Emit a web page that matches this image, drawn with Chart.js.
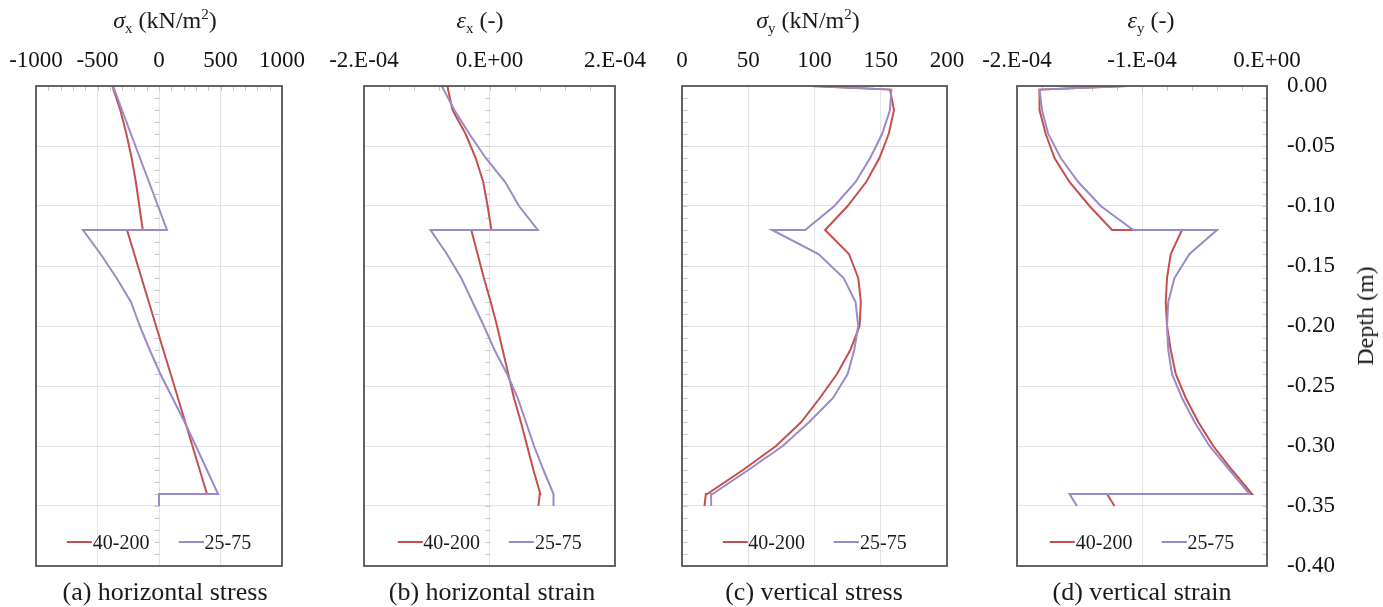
<!DOCTYPE html>
<html>
<head>
<meta charset="utf-8">
<script src="https://cdn.jsdelivr.net/npm/chart.js@4.4.1/dist/chart.umd.min.js"></script>
<style>
  body { margin: 0; background: #fff; width: 1383px; height: 607px; position: relative; overflow: hidden;
         font-family: "Liberation Serif", "Times New Roman", serif; color: #1a1a1a; }
  canvas { position: absolute; top: 0; }
  .title, .caption { position: absolute; white-space: nowrap; transform: translateX(-50%); }
  .title { font-size: 24px; line-height: 28px; }
  .caption { font-size: 26px; line-height: 30px; }
  .title sub { font-size: 15px; vertical-align: -5px; line-height: 0; }
  .title sup { font-size: 15px; vertical-align: 9px; line-height: 0; }
  .legend { position: absolute; display: flex; gap: 29px; transform: translateX(-50%); font-size: 20px; line-height: 24px; white-space: nowrap; }
  .legend span.key { display: inline-block; width: 25px; height: 2px; vertical-align: middle; margin-right: 1px; position: relative; top: -2px; }
  .ytitle { position: absolute; left: 1365px; top: 316px; font-size: 24px; line-height: 28px; white-space: nowrap;
            transform: translate(-50%, -50%) rotate(-90deg); }
</style>
</head>
<body>
<canvas id="chartA" width="366" height="607"></canvas>
<canvas id="chartB" width="371" height="607"></canvas>
<canvas id="chartC" width="385" height="607"></canvas>
<canvas id="chartD" width="426" height="607"></canvas>

<div class="title" style="left:165px;top:6px"><i>σ</i><sub>x</sub> (kN/m<sup>2</sup>)</div>
<div class="title" style="left:480px;top:6px"><i>ε</i><sub>x</sub> (-)</div>
<div class="title" style="left:808px;top:6px"><i>σ</i><sub>y</sub> (kN/m<sup>2</sup>)</div>
<div class="title" style="left:1151px;top:6px"><i>ε</i><sub>y</sub> (-)</div>
<div class="ytitle">Depth (m)</div>

<div class="caption" style="left:165px;top:577px">(a) horizontal stress</div>
<div class="caption" style="left:492px;top:577px">(b) horizontal strain</div>
<div class="caption" style="left:814px;top:577px">(c) vertical stress</div>
<div class="caption" style="left:1142px;top:577px">(d) vertical strain</div>

<script>
// depth of each profile point (m); -0.12 and -0.34 appear twice for the jumps
const depth = [0, -0.003, -0.02, -0.04, -0.06, -0.08, -0.10, -0.12, -0.12, -0.14, -0.16, -0.18,
  -0.20, -0.22, -0.24, -0.26, -0.28, -0.30, -0.32, -0.34, -0.34, -0.35];
const seriesNames = ['40-200', '25-75'];
const seriesColors = ['#C4504D', '#9B89CA'];

// (a) horizontal stress, kN/m2
const sigmaX40 = [-374, -370, -315, -265, -222, -188, -160, -132, -260, -201, -142, -83,
  -24, 35, 95, 154, 213, 272, 331, 390, 0, 0];
const sigmaX25 = [-374, -363, -301, -228, -155, -81, -8, 65, -618, -475, -345, -228,
  -156, -75, 11, 110, 208, 300, 390, 480, 0, 0];

// (b) horizontal strain
const epsX40 = [-67e-6, -66e-6, -59e-6, -38e-6, -22e-6, -10e-6, -3e-6, 3e-6, -29e-6, -19e-6, -9e-6, 2e-6,
  12e-6, 21e-6, 30e-6, 39e-6, 50e-6, 60e-6, 70e-6, 81e-6, 80e-6, 78e-6];
const epsX25 = [-76e-6, -73e-6, -56e-6, -32e-6, -6e-6, 25e-6, 47e-6, 77e-6, -94e-6, -68e-6, -45e-6, -27e-6,
  -9e-6, 8e-6, 28e-6, 45e-6, 58e-6, 71e-6, 86e-6, 102e-6, 102e-6, 102e-6];

// (c) vertical stress, kN/m2
const sigmaY40 = [98, 157, 160, 156, 149, 139, 125, 108, 108, 126, 133, 135,
  134, 127, 117, 104, 90, 71, 46, 19, 18, 17];
const sigmaY25 = [98, 158, 157, 151, 142, 131, 115, 93, 68, 103, 122, 131,
  133, 130, 125, 114, 96, 76, 50, 23, 22, 22];

// (d) vertical strain
const epsY40 = [-112e-6, -182e-6, -182e-6, -177e-6, -170e-6, -158e-6, -142e-6, -124e-6, -68e-6, -77e-6, -80e-6, -81e-6,
  -80e-6, -77e-6, -73e-6, -65e-6, -55e-6, -43e-6, -28e-6, -12e-6, -128e-6, -122e-6];
const epsY25 = [-112e-6, -182e-6, -180e-6, -175e-6, -165e-6, -151e-6, -133e-6, -107e-6, -40e-6, -62e-6, -74e-6, -79e-6,
  -80e-6, -79e-6, -76e-6, -68e-6, -58e-6, -46e-6, -30e-6, -14e-6, -158e-6, -152e-6];

const depthTicks = { min: -0.4, max: 0, step: 0.05 };

const font = { family: '"Liberation Serif", "Times New Roman", serif', size: 23 };
const gridColor = '#e3e3e3';

function sciLabel(v) {
  if (Math.abs(v) < 1e-12) return '0.E+00';
  const e = Math.floor(Math.log10(Math.abs(v)) + 1e-9);
  const m = Math.round(v / Math.pow(10, e));
  return m + '.E' + (e < 0 ? '-' : '+') + String(Math.abs(e)).padStart(2, '0');
}

// frame round the plot and the small minor tick marks Excel draws
const framePlugin = {
  id: 'frame',
  beforeDatasetsDraw(chart, args, opts) {
    const { ctx, chartArea: area, scales: { x, y } } = chart;
    ctx.save();
    ctx.strokeStyle = '#c8c8c8';
    ctx.lineWidth = 1;
    ctx.beginPath();
    const x0 = Math.round(x.getPixelForValue(opts.axisAt)) + 0.5;
    for (let i = 1; i < 40; i++) {
      const py = Math.round(y.getPixelForValue(-i / 100)) + 0.5;
      ctx.moveTo(x0, py);
      ctx.lineTo(x0 + opts.side * 5, py);
    }
    if (opts.xMinor) {
      const n = Math.round((x.max - x.min) / opts.xMinor);
      for (let i = 1; i < n; i++) {
        const px = Math.round(x.getPixelForValue(x.min + i * opts.xMinor)) + 0.5;
        ctx.moveTo(px, area.top);
        ctx.lineTo(px, area.top + 5);
      }
    }
    ctx.stroke();
    ctx.restore();
  },
  afterDatasetsDraw(chart) {
    const { ctx, chartArea: area } = chart;
    ctx.save();
    ctx.strokeStyle = '#555';
    ctx.lineWidth = 1.8;
    ctx.strokeRect(area.left, area.top, area.right - area.left, area.bottom - area.top);
    ctx.restore();
  }
};

function points(values) {
  return values.map((v, i) => ({ x: v, y: depth[i] }));
}

function drawPanel(id, left, plotWidth, xScale, valuesA, valuesB, frameOpts, showDepth) {
  const canvas = document.getElementById(id);
  canvas.style.left = left + 'px';
  const rightPad = showDepth ? 0 : canvas.width - 60 - plotWidth;
  const chart = new Chart(canvas, {
    type: 'scatter',
    data: {
      datasets: [
        { label: seriesNames[0], data: points(valuesA), borderColor: seriesColors[0], backgroundColor: seriesColors[0],
          showLine: true, pointRadius: 0, borderWidth: 2, order: 1 },
        { label: seriesNames[1], data: points(valuesB), borderColor: seriesColors[1], backgroundColor: seriesColors[1],
          showLine: true, pointRadius: 0, borderWidth: 2, order: 0 }
      ]
    },
    options: {
      responsive: false,
      animation: false,
      layout: { padding: { left: 60, right: rightPad, top: 0, bottom: 41 } },
      plugins: { legend: { display: false }, tooltip: { enabled: false }, frame: frameOpts },
      scales: {
        x: {
          type: 'linear', position: 'top', min: xScale.min, max: xScale.max,
          ticks: { stepSize: xScale.step, callback: xScale.label, font: font, color: '#111', padding: 11,
                   maxRotation: 0, autoSkip: false },
          grid: { color: gridColor, drawTicks: false },
          border: { display: false },
          afterFit: s => { s.height = 86; }
        },
        y: {
          type: 'linear', position: showDepth ? 'right' : 'left', min: depthTicks.min, max: depthTicks.max,
          ticks: { display: showDepth, stepSize: depthTicks.step, font: font, color: '#111', padding: 20,
                   callback: v => (Math.abs(v) < 1e-9 ? '0.00' : v.toFixed(2)) },
          grid: { color: gridColor, drawTicks: false },
          border: { display: false },
          afterFit: s => { s.width = showDepth ? 116 : 0; }
        }
      }
    },
    plugins: [framePlugin]
  });

  // legend inside the plot, near its bottom
  const area = chart.chartArea;
  const legend = document.createElement('div');
  legend.className = 'legend';
  legend.style.left = (left + (area.left + area.right) / 2) + 'px';
  legend.style.top = '530px';
  chart.data.datasets.forEach(ds => {
    const item = document.createElement('div');
    const key = document.createElement('span');
    key.className = 'key';
    key.style.background = ds.borderColor;
    item.appendChild(key);
    item.appendChild(document.createTextNode(ds.label));
    legend.appendChild(item);
  });
  document.body.appendChild(legend);
  return chart;
}

drawPanel('chartA', -24, 246, { min: -1000, max: 1000, step: 500, label: v => String(v) },
  sigmaX40, sigmaX25, { axisAt: 0, side: -1, xMinor: 100 }, false);
drawPanel('chartB', 304, 251, { min: -2e-4, max: 2e-4, step: 2e-4, label: sciLabel },
  epsX40, epsX25, { axisAt: 0, side: -1, xMinor: 4e-5 }, false);
drawPanel('chartC', 622, 265, { min: 0, max: 200, step: 50, label: v => String(v) },
  sigmaY40, sigmaY25, { axisAt: 0, side: 1, xMinor: 0 }, false);
drawPanel('chartD', 957, 250, { min: -2e-4, max: 0, step: 1e-4, label: sciLabel },
  epsY40, epsY25, { axisAt: 0, side: -1, xMinor: 2e-5 }, true);
</script>
</body>
</html>
